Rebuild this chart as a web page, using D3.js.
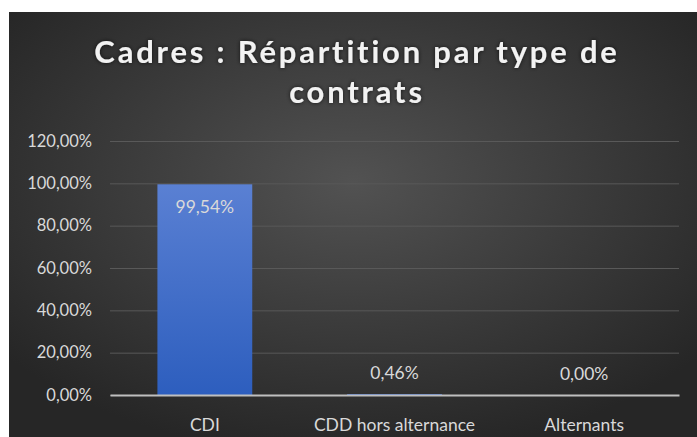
<!DOCTYPE html>
<html>
<head>
<meta charset="utf-8">
<script src="https://cdn.jsdelivr.net/npm/d3@7"></script>
<style>
	html, body { margin: 0; padding: 0; background: #ffffff; }
	svg { display: block; }
</style>
</head>
<body>
<div id="chart"></div>
<script>
// chart data
var categories = ['CDI', 'CDD hors alternance', 'Alternants'];
var values = [99.54, 0.46, 0.00];
var yTicks = [0, 20, 40, 60, 80, 100, 120];
var titleLines = ['Cadres : Répartition par type de', 'contrats'];

var W = 697, H = 437;
var frame = {x: 9, y: 12, w: 688, h: 425};
var margin = {left: 110, right: 679, top: 141, bottom: 395};

var fmt = function(v) { return v.toFixed(2).replace('.', ',') + '%'; };

var svg = d3.select('#chart').append('svg')
	.attr('width', W)
	.attr('height', H);

var defs = svg.append('defs');

// background gradient
var bg = defs.append('radialGradient')
	.attr('id', 'bg_grad')
	.attr('cx', '50%').attr('cy', '40%').attr('r', '65%');
bg.append('stop').attr('offset', '0%').attr('stop-color', '#525252');
bg.append('stop').attr('offset', '100%').attr('stop-color', '#262626');

// bar gradient
var barGrad = defs.append('linearGradient')
	.attr('id', 'bar_grad')
	.attr('x1', 0).attr('y1', 0).attr('x2', 0).attr('y2', 1);
barGrad.append('stop').attr('offset', '0%').attr('stop-color', '#5a80d3');
barGrad.append('stop').attr('offset', '100%').attr('stop-color', '#2d5ebe');

// title glow
var glow = defs.append('filter').attr('id', 'title_glow')
	.attr('x', '-10%').attr('y', '-30%').attr('width', '120%').attr('height', '160%');
glow.append('feGaussianBlur').attr('in', 'SourceAlpha').attr('stdDeviation', 2).attr('result', 'blur');
glow.append('feFlood').attr('flood-color', '#000').attr('flood-opacity', 0.7);
glow.append('feComposite').attr('in2', 'blur').attr('operator', 'in').attr('result', 'shadow');
var merge = glow.append('feMerge');
merge.append('feMergeNode').attr('in', 'shadow');
merge.append('feMergeNode').attr('in', 'SourceGraphic');

svg.append('rect')
	.attr('x', frame.x).attr('y', frame.y)
	.attr('width', frame.w).attr('height', frame.h)
	.attr('fill', 'url(#bg_grad)');

// title
var title = svg.append('g').attr('filter', 'url(#title_glow)');
title.selectAll('text')
	.data(titleLines)
	.enter()
	.append('text')
	.attr('x', 357)
	.attr('y', (d, i) => 63 + i * 40)
	.attr('text-anchor', 'middle')
	.style('font-family', 'Lato, "Open Sans", sans-serif')
	.style('font-weight', 'bold')
	.style('font-size', '31px')
	.style('letter-spacing', '2.8px')
	.attr('fill', '#f2f2f2')
	.text(d => d);

// scales
var x = d3.scaleBand()
	.domain(categories)
	.range([margin.left, margin.right])
	.paddingInner(0.5)
	.paddingOuter(0.25);

var y = d3.scaleLinear()
	.domain([0, 120])
	.range([margin.bottom, margin.top]);

// y axis with gridlines
var yAxis = g => g
	.attr('transform', `translate(${margin.left}, 0)`)
	.call(d3.axisLeft(y).tickValues(yTicks).tickFormat(fmt).tickSize(0).tickPadding(18))
	.call(g => g.select('.domain').remove())
	.call(g => g.selectAll('.tick line').clone()
		.attr('x2', margin.right - margin.left)
		.attr('stroke', '#595959')
		.attr('stroke-width', 1))
	.call(g => g.selectAll('text')
		.attr('fill', '#d9d9d9')
		.style('font-family', 'Lato, sans-serif')
		.style('font-size', '16.5px'));

svg.append('g').call(yAxis);

// bars
svg.append('g')
	.attr('class', 'bars')
	.selectAll('rect')
	.data(values)
	.enter()
	.append('rect')
	.attr('x', (d, i) => x(categories[i]))
	.attr('y', d => y(d))
	.attr('width', x.bandwidth())
	.attr('height', d => y(0) - y(d))
	.attr('fill', 'url(#bar_grad)');

// x axis line
var xAxis = g => g
	.attr('transform', `translate(0, ${margin.bottom})`)
	.call(d3.axisBottom(x).tickSize(0).tickPadding(24))
	.call(g => g.select('.domain')
		.attr('stroke', '#bfbfbf')
		.attr('stroke-width', 2))
	.call(g => g.selectAll('text')
		.attr('fill', '#d9d9d9')
		.style('font-family', 'Lato, sans-serif')
		.style('font-size', '17.5px'));

svg.append('g').call(xAxis);

// data labels: inside end when the bar is tall enough, else above
svg.append('g')
	.selectAll('text')
	.data(values)
	.enter()
	.append('text')
	.attr('x', (d, i) => x(categories[i]) + x.bandwidth() / 2)
	.attr('y', d => (y(0) - y(d) > 30) ? y(d) + 29 : y(d) - 15)
	.attr('text-anchor', 'middle')
	.attr('fill', '#d9d9d9')
	.style('font-family', 'Lato, sans-serif')
	.style('font-size', '17.5px')
	.text(d => fmt(d));
</script>
</body>
</html>
